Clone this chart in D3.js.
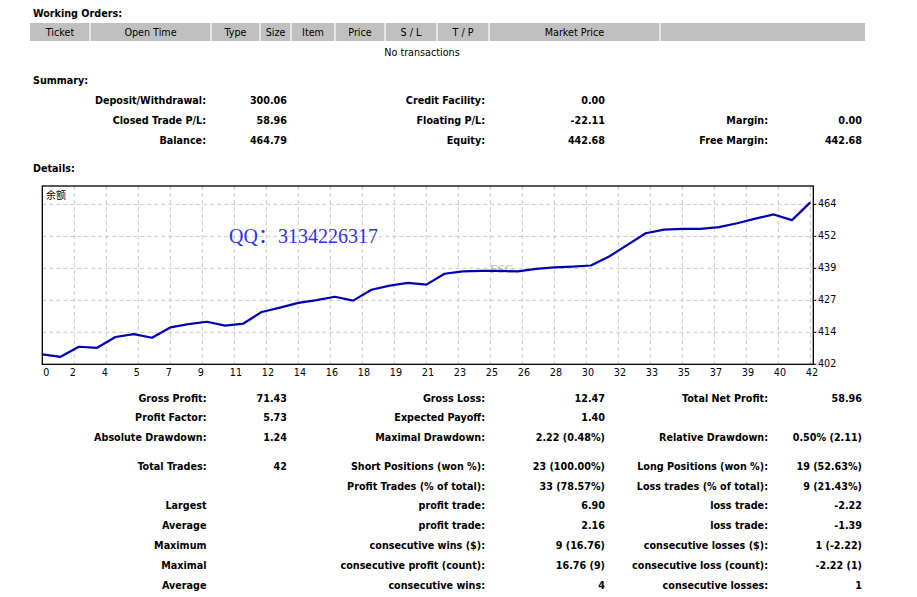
<!DOCTYPE html>
<html>
<head>
<meta charset="utf-8">
<script src="https://cdn.jsdelivr.net/npm/d3@7"></script>
<style>
    body { margin: 0; background: #fff; }
    svg text { font-family: "DejaVu Sans Condensed", "DejaVu Sans", sans-serif; font-stretch: condensed; font-size: 10.7px; fill: #000; }
    .b { font-weight: bold; }
</style>
</head>
<body>
<div id="report"></div>
<script>
// ---- data ----
const orderColumns = ["Ticket", "Open Time", "Type", "Size", "Item", "Price", "S / L", "T / P", "Market Price", ""];

const summaryLabels1 = ["Deposit/Withdrawal:", "Closed Trade P/L:", "Balance:"];
const summaryValues1 = ["300.06", "58.96", "464.79"];
const summaryLabels2 = ["Credit Facility:", "Floating P/L:", "Equity:"];
const summaryValues2 = ["0.00", "-22.11", "442.68"];
const summaryLabels3 = ["", "Margin:", "Free Margin:"];
const summaryValues3 = ["", "0.00", "442.68"];

// balance after each trade (trade 0 = start)
const balance = [
    405.83, 404.90, 408.80, 408.40, 412.60, 413.70, 412.30, 416.30, 417.60, 418.50,
    417.00, 417.80, 422.30, 424.00, 425.80, 426.90, 428.20, 426.70, 430.90, 432.50,
    433.60, 432.90, 437.10, 438.00, 438.20, 438.20, 438.00, 439.00, 439.60, 439.90,
    440.30, 443.80, 448.30, 452.80, 454.20, 454.50, 454.50, 455.20, 456.70, 458.50,
    460.11, 457.89, 464.79
];
const xTickLabels = [0, 2, 4, 5, 7, 9, 11, 12, 14, 16, 18, 19, 21, 23, 25, 26, 28, 30, 32, 33, 35, 37, 39, 40, 42];
const yTickLabels = [402, 414, 427, 439, 452, 464];

const statLabels1 = ["Gross Profit:", "Profit Factor:", "Absolute Drawdown:", "Total Trades:", "", "Largest", "Average", "Maximum", "Maximal", "Average"];
const statValues1 = ["71.43", "5.73", "1.24", "42", "", "", "", "", "", ""];
const statLabels2 = ["Gross Loss:", "Expected Payoff:", "Maximal Drawdown:", "Short Positions (won %):", "Profit Trades (% of total):",
    "profit trade:", "profit trade:", "consecutive wins ($):", "consecutive profit (count):", "consecutive wins:"];
const statValues2 = ["12.47", "1.40", "2.22 (0.48%)", "23 (100.00%)", "33 (78.57%)", "6.90", "2.16", "9 (16.76)", "16.76 (9)", "4"];
const statLabels3 = ["Total Net Profit:", "", "Relative Drawdown:", "Long Positions (won %):", "Loss trades (% of total):",
    "loss trade:", "loss trade:", "consecutive losses ($):", "consecutive loss (count):", "consecutive losses:"];
const statValues3 = ["58.96", "", "0.50% (2.11)", "19 (52.63%)", "9 (21.43%)", "-2.22", "-1.39", "1 (-2.22)", "-2.22 (1)", "1"];

// ---- layout ----
const width = 917, height = 597;
const colEdges = [30, 90, 211, 260, 291, 335, 385, 437, 489, 660, 865];
const plot = {left: 42.3, right: 813.3, top: 186, bottom: 364.3, xEnd: 810.3, yTop: 204.4};
const summaryRows = [100, 120, 140];
const statRows = [398, 417.5, 437, 466, 486, 505.5, 525, 545, 565, 585];

const svg = d3.select("#report").append("svg")
    .attr("width", width)
    .attr("height", height);

svg.append("rect").attr("width", width).attr("height", height).attr("fill", "#fff");

function label(x, y, text, anchor, bold) {
    return svg.append("text")
        .attr("x", x)
        .attr("y", y)
        .attr("dy", "0.36em")
        .attr("text-anchor", anchor || "start")
        .attr("class", bold ? "b" : null)
        .text(text);
}

// working orders
label(33, 13, "Working Orders:", "start", true);
svg.append("rect")
    .attr("x", colEdges[0]).attr("y", 23)
    .attr("width", colEdges[colEdges.length - 1] - colEdges[0]).attr("height", 18)
    .attr("fill", "#c0c0c0");
svg.selectAll("line.sep")
    .data(colEdges.slice(1, -1))
    .enter().append("line")
    .attr("class", "sep")
    .attr("x1", d => d).attr("x2", d => d)
    .attr("y1", 23).attr("y2", 41)
    .attr("stroke", "#fff").attr("stroke-width", 1.2);
orderColumns.forEach((c, i) => {
    label((colEdges[i] + colEdges[i + 1]) / 2, 32, c, "middle");
});
label(422, 52, "No transactions", "middle");

// summary
label(33, 80, "Summary:", "start", true);
summaryRows.forEach((y, i) => {
    label(206, y, summaryLabels1[i], "end", true);
    label(287, y, summaryValues1[i], "end", true);
    label(485, y, summaryLabels2[i], "end", true);
    label(605, y, summaryValues2[i], "end", true);
    label(768, y, summaryLabels3[i], "end", true);
    label(862, y, summaryValues3[i], "end", true);
});

// details chart
label(33, 168, "Details:", "start", true);

const x = d3.scaleLinear().domain([0, balance.length - 1]).range([plot.left, plot.xEnd]);
const y = d3.scaleLinear().domain([yTickLabels[0], yTickLabels[yTickLabels.length - 1]]).range([plot.bottom, plot.yTop]);
const xStep = (balance.length - 1) / (xTickLabels.length - 1);
const yStep = (y.domain()[1] - y.domain()[0]) / (yTickLabels.length - 1);

const g = svg.append("g");

// grid
g.selectAll("line.vg")
    .data(xTickLabels.map((d, i) => i * xStep).slice(1))
    .enter().append("line")
    .attr("class", "vg")
    .attr("x1", d => x(d)).attr("x2", d => x(d))
    .attr("y1", plot.top).attr("y2", plot.bottom)
    .attr("stroke", "#c8c8c8").attr("stroke-dasharray", "4,3");
g.selectAll("line.hg")
    .data(yTickLabels.map((d, i) => y.domain()[0] + i * yStep).slice(1))
    .enter().append("line")
    .attr("class", "hg")
    .attr("x1", plot.left).attr("x2", plot.right)
    .attr("y1", d => y(d)).attr("y2", d => y(d))
    .attr("stroke", "#c8c8c8").attr("stroke-dasharray", "4,3");

// watermarks
g.append("text")
    .attr("x", 229).attr("y", 243)
    .style("font-family", "'Liberation Serif', 'Noto Sans CJK SC', serif")
    .style("font-stretch", "normal")
    .style("font-size", "20px")
    .style("fill", "#3030f0")
    .text("QQ：3134226317");
g.append("text")
    .attr("x", 490).attr("y", 273)
    .style("font-family", "'Liberation Serif', 'DejaVu Serif', serif")
    .style("font-stretch", "normal")
    .style("font-size", "13px")
    .style("fill", "#b4b4b4")
    .text("FSG");

g.append("text")
    .attr("x", 46).attr("y", 195)
    .attr("dy", "0.36em")
    .style("font-family", "'Noto Sans CJK SC', sans-serif")
    .style("font-size", "10px")
    .text("余额");

// balance line
g.append("path")
    .datum(balance)
    .attr("fill", "none")
    .attr("stroke", "#0000b0")
    .attr("stroke-width", 2.2)
    .attr("stroke-linejoin", "round")
    .attr("d", d3.line().x((d, i) => x(i)).y(d => y(d)));

// frame
g.append("rect")
    .attr("x", plot.left).attr("y", plot.top)
    .attr("width", plot.right - plot.left).attr("height", plot.bottom - plot.top)
    .attr("fill", "none").attr("stroke", "#000").attr("stroke-width", 1.3);

// axes labels
xTickLabels.forEach((t, i) => {
    const px = Math.max(x(i * xStep) - 4.5, plot.left + 1);
    label(px, 372, t, "start");
});
yTickLabels.forEach((t, i) => {
    const py = y(y.domain()[0] + i * yStep);
    g.append("line")
        .attr("x1", plot.right).attr("x2", plot.right + 3)
        .attr("y1", py).attr("y2", py)
        .attr("stroke", "#000");
    label(818, py - 1, t, "start");
});

// stats
statRows.forEach((y, i) => {
    label(206.5, y, statLabels1[i], "end", true);
    label(287, y, statValues1[i], "end", true);
    label(485, y, statLabels2[i], "end", true);
    label(605, y, statValues2[i], "end", true);
    label(768, y, statLabels3[i], "end", true);
    label(862, y, statValues3[i], "end", true);
});
</script>
</body>
</html>
